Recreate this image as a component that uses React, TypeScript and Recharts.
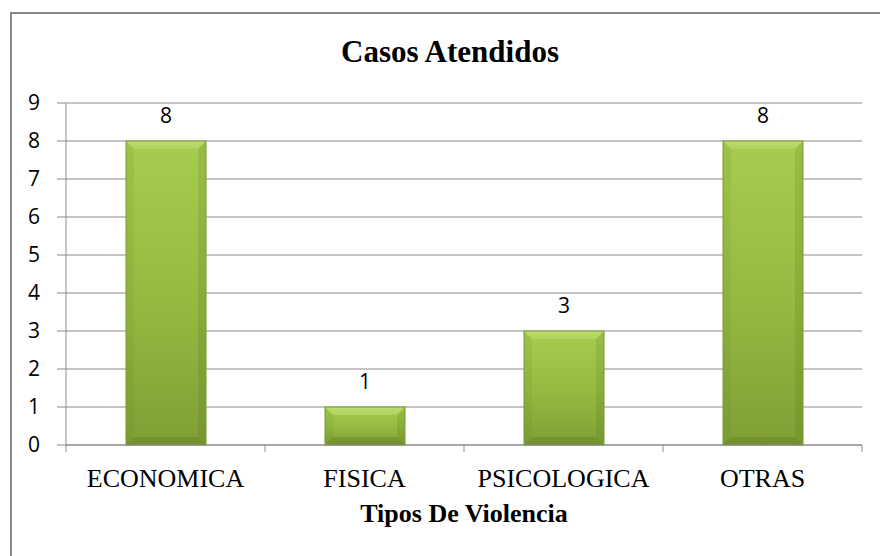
import React from "react";
import {
  BarChart,
  Bar,
  XAxis,
  YAxis,
  CartesianGrid,
  LabelList,
} from "recharts";

const CATEGORIES = ["ECONOMICA", "FISICA", "PSICOLOGICA", "OTRAS"];
const CASES = [8, 1, 3, 8];
const Y_TICKS = [0, 1, 2, 3, 4, 5, 6, 7, 8, 9];

const data = CATEGORIES.map((name, i) => ({ name, casos: CASES[i] }));

const GRID = "#8a8a8a";
const CAT_MARGIN = 23;
const EDGE_TICK = 7;

// category label + tick marks on the category boundaries (Excel style)
// eslint-disable-next-line @typescript-eslint/no-explicit-any
function CatTick(props: any) {
  const { x, y, payload, index, visibleTicksCount } = props;
  const half = payload?.offset ?? 0;
  const axisY = y - CAT_MARGIN;
  const isLast = index === visibleTicksCount - 1;
  return (
    <g>
      <line x1={x - half} x2={x - half} y1={axisY} y2={axisY + EDGE_TICK} stroke={GRID} />
      {isLast && (
        <line x1={x + half} x2={x + half} y1={axisY} y2={axisY + EDGE_TICK} stroke={GRID} />
      )}
      <text
        x={x}
        y={y}
        dy={18.5}
        textAnchor="middle"
        fontFamily="'Liberation Serif', 'Times New Roman', serif"
        fontSize={26}
        fill="#000"
      >
        {payload.value}
      </text>
    </g>
  );
}

// Excel-style bevelled bar
// eslint-disable-next-line @typescript-eslint/no-explicit-any
function BevelBar(props: any) {
  const { x, y, width, height } = props;
  if (!height || height <= 0) return null;
  const b = Math.min(8, height / 3, width / 4);
  const r = x + width;
  const bt = y + height;
  return (
    <g>
      <rect x={x} y={y} width={width} height={height} fill="url(#barBody)" />
      <polygon
        points={`${x},${y} ${r},${y} ${r - b},${y + b} ${x + b},${y + b}`}
        fill="url(#barTop)"
      />
      <polygon
        points={`${x},${y} ${x + b},${y + b} ${x + b},${bt - b} ${x},${bt}`}
        fill="rgba(60,80,10,0.07)"
      />
      <polygon
        points={`${r},${y} ${r - b},${y + b} ${r - b},${bt - b} ${r},${bt}`}
        fill="rgba(60,80,10,0.12)"
      />
      <polygon
        points={`${x},${bt} ${x + b},${bt - b} ${r - b},${bt - b} ${r},${bt}`}
        fill="rgba(50,70,10,0.16)"
      />
      <rect
        x={x}
        y={y}
        width={width}
        height={height}
        fill="none"
        stroke="#7a9935"
        strokeWidth={1}
      />
    </g>
  );
}

export default function App() {
  return (
    <div
      style={{
        position: "absolute",
        left: 0,
        top: 0,
        width: 880,
        height: 556,
        overflow: "hidden",
        background: "#fff",
      }}
    >
      <div
        style={{
          position: "absolute",
          left: 10,
          top: 12,
          width: 900,
          height: 600,
          borderLeft: "2px solid #878787",
          borderTop: "2px solid #878787",
        }}
      />
      <BarChart
        width={880}
        height={556}
        data={data}
        margin={{ top: 103, right: 18, bottom: 51, left: 0 }}
        style={{ position: "absolute", left: 0, top: 0 }}
      >
        <defs>
          <linearGradient id="barBody" x1="0" y1="0" x2="0" y2="1">
            <stop offset="0%" stopColor="#a6cc4f" />
            <stop offset="55%" stopColor="#93b940" />
            <stop offset="100%" stopColor="#7f9f36" />
          </linearGradient>
          <linearGradient id="barTop" x1="0" y1="0" x2="0" y2="1">
            <stop offset="0%" stopColor="#bedd70" />
            <stop offset="100%" stopColor="#afd35c" />
          </linearGradient>
        </defs>
        <CartesianGrid vertical={false} stroke={GRID} strokeWidth={1} />
        <XAxis
          dataKey="name"
          type="category"
          height={60}
          interval={0}
          axisLine={{ stroke: GRID }}
          tickLine={false}
          tickSize={0}
          tickMargin={CAT_MARGIN}
          tick={<CatTick />}
        />
        <YAxis
          domain={[0, 9]}
          ticks={Y_TICKS}
          width={66}
          tickSize={9}
          tickMargin={17}
          axisLine={{ stroke: GRID }}
          tickLine={{ stroke: GRID }}
          tick={{ fontFamily: "'Open Sans', sans-serif", fontSize: 21, fill: "#000" }}
        />
        <Bar dataKey="casos" barSize={80} shape={<BevelBar />} isAnimationActive={false}>
          <LabelList
            dataKey="casos"
            position="top"
            offset={18}
            style={{ fontFamily: "'Open Sans', sans-serif", fontSize: 21, fill: "#000" }}
          />
        </Bar>
      </BarChart>
      <div
        style={{
          position: "absolute",
          left: 0,
          width: 900,
          top: 36,
          textAlign: "center",
          fontFamily: "'Liberation Serif', 'Times New Roman', serif",
          fontWeight: "bold",
          fontSize: 31,
          lineHeight: "31px",
          color: "#000",
        }}
      >
        Casos Atendidos
      </div>
      <div
        style={{
          position: "absolute",
          left: 66,
          width: 796,
          top: 501,
          textAlign: "center",
          fontFamily: "'Liberation Serif', 'Times New Roman', serif",
          fontWeight: "bold",
          fontSize: 26,
          lineHeight: "26px",
          color: "#000",
        }}
      >
        Tipos De Violencia
      </div>
    </div>
  );
}
